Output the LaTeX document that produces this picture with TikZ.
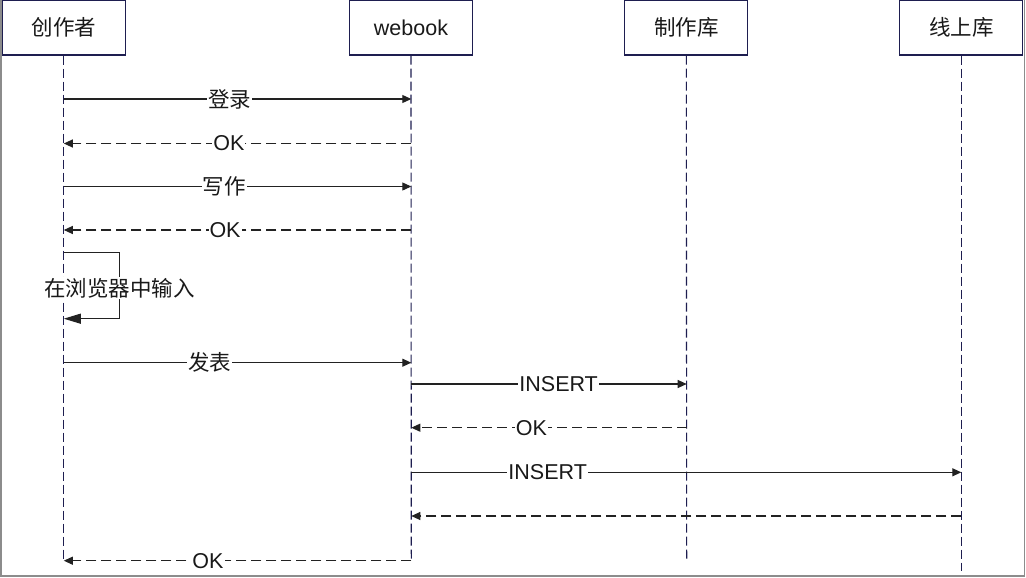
\documentclass[tikz,border=0pt]{standalone}
\usepackage{fontspec}
\setmainfont{Liberation Sans}
\newfontfamily\cjk{Noto Sans CJK SC}
\usetikzlibrary{arrows.meta}
\definecolor{lifeblue}{HTML}{1E1E50}
\definecolor{msggray}{HTML}{222222}
\definecolor{framegray}{HTML}{8C8C8C}

\begin{document}
\begin{tikzpicture}[x=1pt,y=-1pt]
        \tikzstyle{box_style} = [draw=lifeblue, line width=1.1, fill=white, minimum width=123, minimum height=55, inner sep=0, text=black!90, font=\fontsize{21.5}{25}\selectfont]
        \tikzstyle{life_style} = [lifeblue, line width=1.1, dash pattern=on 9 off 4]
        \tikzstyle{call_style} = [-{Triangle[length=9,width=8]}, msggray, line width=1.1]
        \tikzstyle{reply_style} = [-{Triangle[length=9,width=8]}, msggray, line width=1.1, dash pattern=on 10 off 5]
        \tikzstyle{self_style} = [-{Triangle[length=17,width=10]}, msggray, line width=1.1]
        \tikzstyle{label_style} = [fill=white, inner sep=1, text=black!90, font=\fontsize{21.5}{25}\selectfont]

        \useasboundingbox (0,0) rectangle (1026,578);
        \fill[white] (0,0) rectangle (1026,578);
        \draw[framegray, line width=1.2] (1,0) -- (1,576) -- (1024.5,576) -- (1024.5,0);

        % The boxes at the top
        \node[box_style] (creator) at (63.8,27.5) {\cjk 创作者};
        \node[box_style] (webook) at (411,27.5) {webook};
        \node[box_style] (draftdb) at (686.3,27.5) {\cjk 制作库};
        \node[box_style] (onlinedb) at (961.3,27.5) {\cjk 线上库};

        % Lifelines
        \coordinate (c_end) at (63.8,562);
        \coordinate (w_end) at (411.3,560.7);
        \coordinate (d_end) at (686.7,560);
        \coordinate (o_end) at (961.3,571);
        \draw[life_style] (creator.south) -- (c_end);
        \draw[life_style] (webook.south) -- (w_end);
        \draw[life_style] (draftdb.south) -- (d_end);
        \draw[life_style] (onlinedb.south) -- (o_end);

        % Points on the lifelines
        \coordinate (c1) at (63.8,99);
        \coordinate (w1) at (411.3,99);
        \coordinate (c2) at (63.8,143.5);
        \coordinate (w2) at (411.3,143.5);
        \coordinate (c3) at (63.8,186.5);
        \coordinate (w3) at (411.3,186.5);
        \coordinate (c4) at (63.8,230);
        \coordinate (w4) at (411.3,230);
        \coordinate (c5) at (63.8,252.3);
        \coordinate (l1) at (119.3,252.3);
        \coordinate (l2) at (119.3,318.7);
        \coordinate (c6) at (63.8,318.7);
        \coordinate (c7) at (63.8,362.7);
        \coordinate (w7) at (411.3,362.7);
        \coordinate (w8) at (411.3,384);
        \coordinate (d8) at (686.7,384);
        \coordinate (w9) at (411.3,427.7);
        \coordinate (d9) at (686.7,427.7);
        \coordinate (w10) at (411.3,472.3);
        \coordinate (o10) at (961.3,472.3);
        \coordinate (w11) at (411.3,516);
        \coordinate (o11) at (961.3,516);
        \coordinate (c12) at (63.8,560.7);

        % Messages
        \draw[call_style] (c1) -- node[label_style, pos=0.478] {\cjk 登录} (w1);
        \draw[reply_style] (w2) -- node[label_style, pos=0.525] {OK} (c2);
        \draw[call_style] (c3) -- node[label_style, pos=0.462] {\cjk 写作} (w3);
        \draw[reply_style] (w4) -- node[label_style, pos=0.536] {OK} (c4);
        \draw[self_style] (c5) -- (l1) -- node[label_style, pos=0.54] {\cjk 在浏览器中输入} (l2) -- (c6);
        \draw[call_style] (c7) -- node[label_style, pos=0.42] {\cjk 发表} (w7);
        \draw[call_style] (w8) -- node[label_style, pos=0.535] {INSERT} (d8);
        \draw[reply_style] (d9) -- node[label_style, pos=0.564] {OK} (w9);
        \draw[call_style] (w10) -- node[label_style, pos=0.248] {INSERT} (o10);
        \draw[reply_style] (o11) -- (w11);
        \draw[reply_style] (w_end) -- node[label_style, pos=0.585] {OK} (c12);
    \end{tikzpicture}
\end{document}
